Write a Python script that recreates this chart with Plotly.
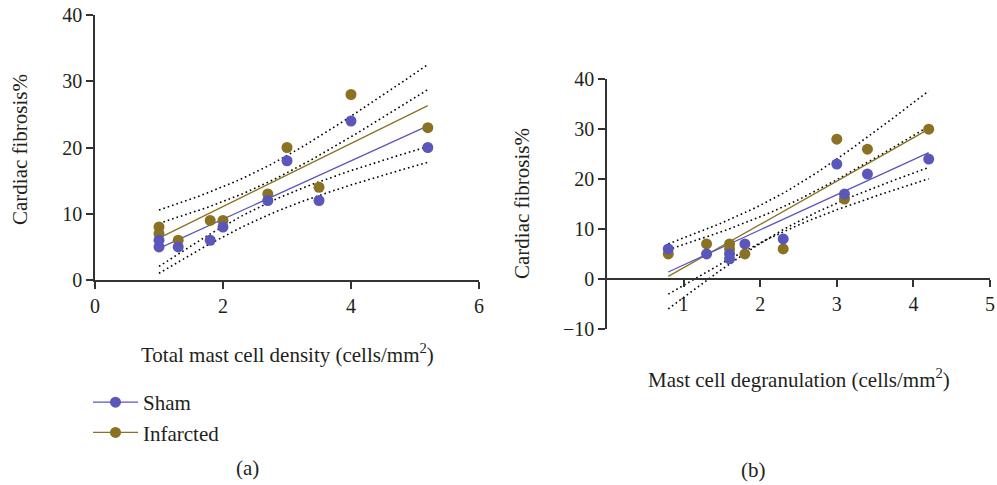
import numpy as np
import plotly.graph_objects as go

# ---- data ----
a_sham_x = [1, 1, 1.3, 1.8, 2, 2.7, 3, 3.5, 4, 5.2]
a_sham_y = [5, 6, 5, 6, 8, 12, 18, 12, 24, 20]
a_inf_x = [1, 1, 1.3, 1.8, 2, 2.7, 3, 3.5, 4, 5.2]
a_inf_y = [8, 7, 6, 9, 9, 13, 20, 14, 28, 23]

b_sham_x = [0.8, 1.3, 1.6, 1.6, 1.8, 2.3, 3, 3.1, 3.4, 4.2]
b_sham_y = [6, 5, 5, 4, 7, 8, 23, 17, 21, 24]
b_inf_x = [0.8, 1.3, 1.6, 1.6, 1.8, 2.3, 3, 3.1, 3.4, 4.2]
b_inf_y = [5, 7, 7, 6, 5, 6, 28, 16, 26, 30]

a_xticks = [0, 2, 4, 6]
a_yticks = [0, 10, 20, 30, 40]
b_xticks = [1, 2, 3, 4, 5]
b_yticks = [-10, 0, 10, 20, 30, 40]

series_names = ["Sham", "Infarcted"]
T975 = {8: 2.306}

BLUE = "#5b56b9"
OLIVE = "#8a7222"
TXT = "#231f20"
FONT = "Liberation Serif"
W, H = 997, 485


def fit(x, y):
    x = np.asarray(x, float); y = np.asarray(y, float)
    n = len(x)
    slope, icpt = np.polyfit(x, y, 1)
    xs = np.linspace(x.min(), x.max(), 60)
    yhat = icpt + slope * xs
    res = y - (icpt + slope * x)
    s = np.sqrt((res ** 2).sum() / (n - 2))
    sxx = ((x - x.mean()) ** 2).sum()
    hw = T975[n - 2] * s * np.sqrt(1 / n + (xs - x.mean()) ** 2 / sxx)
    return xs, yhat, yhat - hw, yhat + hw


fig = go.Figure()

panels = [
    ("x", "y", [(a_inf_x, a_inf_y, OLIVE), (a_sham_x, a_sham_y, BLUE)]),
    ("x2", "y2", [(b_inf_x, b_inf_y, OLIVE), (b_sham_x, b_sham_y, BLUE)]),
]
for xa, ya, groups in panels:
    fits = [fit(gx, gy) for gx, gy, _ in groups]
    for xs, yhat, lo, hi in fits:
        for band in (lo, hi):
            fig.add_trace(go.Scatter(x=xs, y=band, xaxis=xa, yaxis=ya, mode="lines",
                                     line=dict(color="black", width=1.6, dash="1.6px,3px"),
                                     showlegend=False, hoverinfo="skip"))
    for (xs, yhat, lo, hi), (_, _, c) in zip(fits, groups):
        fig.add_trace(go.Scatter(x=xs, y=yhat, xaxis=xa, yaxis=ya, mode="lines",
                                 line=dict(color=c, width=1.3), showlegend=False))
    for gx, gy, c in groups:
        fig.add_trace(go.Scatter(x=gx, y=gy, xaxis=xa, yaxis=ya, mode="markers",
                                 marker=dict(color=c, size=11), showlegend=False,
                                 cliponaxis=False))

# legend entries
for name, c in zip(series_names, [BLUE, OLIVE]):
    fig.add_trace(go.Scatter(x=[None], y=[None], mode="lines+markers", name=name,
                             line=dict(color=c, width=1.3), marker=dict(color=c, size=11)))


def px_x(p):
    return p / W


def px_y(p):
    return 1 - p / H


axis_common = dict(showgrid=False, zeroline=False, showline=True, linecolor="#333333",
                   linewidth=1.5, ticks="outside", ticklen=7, tickwidth=1.5,
                   tickcolor="#333333", automargin=False,
                   tickfont=dict(family=FONT, size=20, color=TXT))

b_ydom = [px_y(328.7), px_y(79.3)]
b_zero = b_ydom[0] + (0 - b_yticks[0]) / (b_yticks[-1] - b_yticks[0]) * (b_ydom[1] - b_ydom[0])

fig.update_layout(
    width=W, height=H, margin=dict(l=0, r=0, t=0, b=0, autoexpand=False),
    paper_bgcolor="white", plot_bgcolor="white",
    font=dict(family=FONT, size=20, color=TXT),
    xaxis=dict(domain=[px_x(95), px_x(479)], range=[a_xticks[0], a_xticks[-1]],
               tickvals=a_xticks, anchor="y", **axis_common),
    yaxis=dict(domain=[px_y(280), px_y(15)], range=[a_yticks[0], a_yticks[-1]],
               tickvals=a_yticks, anchor="x", **axis_common),
    xaxis2=dict(domain=[px_x(607), px_x(990)], range=[0, b_xticks[-1]],
                tickvals=b_xticks, anchor="free", position=b_zero, **axis_common),
    yaxis2=dict(domain=b_ydom, range=[b_yticks[0], b_yticks[-1]],
                tickvals=b_yticks, anchor="x2", **axis_common),
    showlegend=True,
    legend=dict(x=px_x(88), y=px_y(382), xanchor="left", yanchor="top",
                font=dict(family=FONT, size=21, color=TXT),
                bgcolor="rgba(0,0,0,0)", tracegroupgap=4, itemwidth=45),
)

ann = [
    ("Cardiac fibrosis%", 20, 150, -90),
    ("Cardiac fibrosis%", 522, 204, -90),
    ("Total mast cell density (cells/mm<sup>2</sup>)", 287, 353, 0),
    ("Mast cell degranulation (cells/mm<sup>2</sup>)", 799, 378, 0),
    ("(a)", 247, 468, 0),
    ("(b)", 753, 470, 0),
]
for text, cx, cy, ang in ann:
    fig.add_annotation(text=text, x=px_x(cx), y=px_y(cy), xref="paper", yref="paper",
                       showarrow=False, textangle=ang, xanchor="center", yanchor="middle",
                       font=dict(family=FONT, size=21, color=TXT))

fig.write_html("out.html", config={"displayModeBar": False},
               post_script="document.body.style.margin='0';")
